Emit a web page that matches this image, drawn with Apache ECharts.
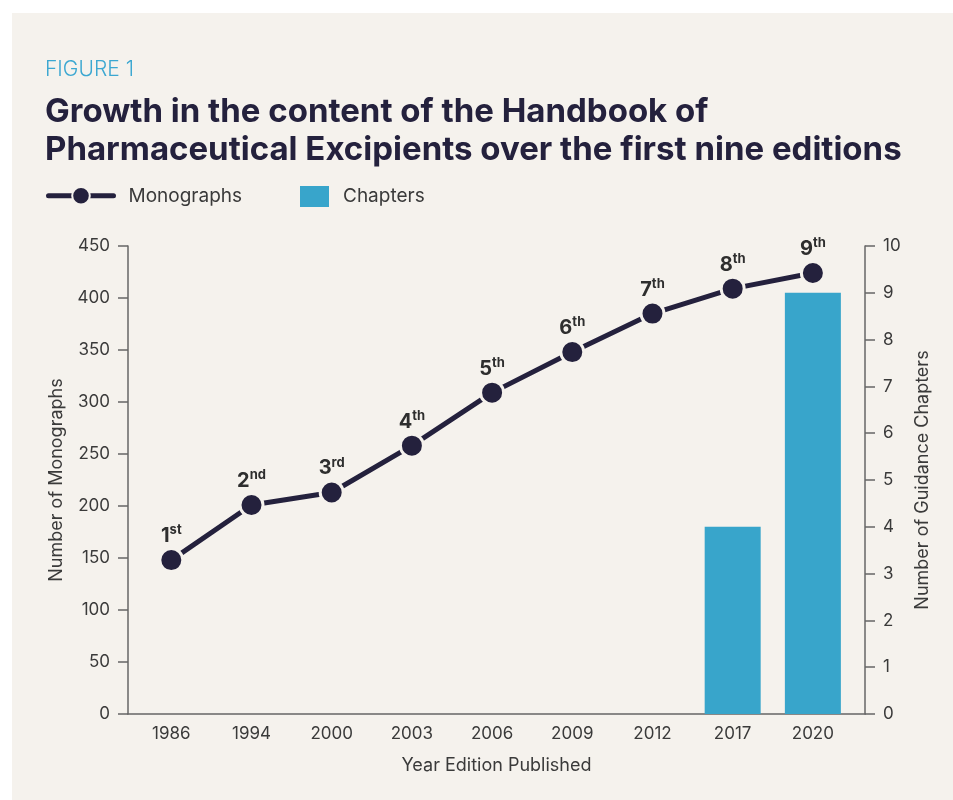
<!DOCTYPE html>
<html>
<head>
<meta charset="utf-8">
<script src="https://cdn.jsdelivr.net/npm/echarts@6/dist/echarts.min.js"></script>
<style>
  html, body { margin: 0; padding: 0; background: #ffffff; }
  #panel { position: absolute; left: 12px; top: 13px; width: 941px; height: 787px; background: #f5f2ed; }
  #chart { position: absolute; left: 0; top: 0; width: 953px; height: 800px; }
</style>
</head>
<body>
<div id="panel"></div>
<div id="chart"></div>
<script>
// data
const years = ['1986', '1994', '2000', '2003', '2006', '2009', '2012', '2017', '2020']
const editions = ['1st', '2nd', '3rd', '4th', '5th', '6th', '7th', '8th', '9th']
const monographs = [148, 201, 213, 258, 309, 348, 385, 409, 424]
const chapters = [0, 0, 0, 0, 0, 0, 0, 4, 9]

const navy = '#24213d'
const blue = '#38a5cb'
const textColor = '#3a3a3a'
const axisColor = '#666666'
const bg = '#f5f2ed'
const font = 'Inter, "Noto Sans", sans-serif'

const myChart = echarts.init(document.getElementById('chart'))

const axisCommon = {
  axisLine: { show: true, onZero: false, lineStyle: { color: axisColor, width: 1.5 } },
  axisTick: { show: true, length: 10, lineStyle: { color: axisColor, width: 1.5 } },
  splitLine: { show: false },
  axisLabel: { color: textColor, fontSize: 17, fontFamily: font, margin: 18 },
  nameLocation: 'middle',
  nameTextStyle: { color: textColor, fontSize: 18, fontFamily: font }
}

const option = {
  backgroundColor: 'transparent',
  textStyle: { fontFamily: font },
  title: [
    {
      text: 'FIGURE 1',
      left: 45,
      top: 58,
      padding: 0,
      textStyle: { color: '#3ba7d1', fontSize: 21, fontWeight: 300, fontFamily: font, lineHeight: 24 }
    },
    {
      text: 'Growth in the content of the Handbook of\nPharmaceutical Excipients over the first nine editions',
      left: 45,
      top: 93,
      padding: 0,
      textStyle: { color: navy, fontSize: 33, fontWeight: 'bold', fontFamily: font, lineHeight: 38 }
    }
  ],
  legend: [
    {
      data: ['Monographs'],
      left: 46,
      top: 186,
      padding: 0,
      itemWidth: 65,
      itemHeight: 22,
      lineStyle: { width: 5, cap: 'round' },
      textStyle: { color: textColor, fontSize: 19, fontFamily: font, padding: [0, 0, 0, 10] }
    },
    {
      data: ['Chapters'],
      left: 300,
      top: 186,
      padding: 0,
      itemWidth: 29,
      itemHeight: 21,
      icon: 'rect',
      textStyle: { color: textColor, fontSize: 19, fontFamily: font, padding: [0, 0, 0, 9] }
    }
  ],
  grid: { left: 128, right: 88, top: 246, bottom: 86, containLabel: false },
  xAxis: {
    type: 'value',
    min: -0.54,
    max: 8.65,
    name: 'Year Edition Published',
    nameLocation: 'middle',
    nameGap: 43,
    nameTextStyle: { color: textColor, fontSize: 18, fontFamily: font },
    axisLine: { show: true, onZero: false, lineStyle: { color: axisColor, width: 1.5 } },
    axisTick: { show: false },
    splitLine: { show: false },
    axisLabel: {
      color: textColor,
      fontSize: 17,
      fontFamily: font,
      margin: 11,
      customValues: years.map((y, i) => i),
      formatter: v => years[Math.round(v)]
    }
  },
  yAxis: [
    {
      ...axisCommon,
      type: 'value',
      position: 'left',
      min: 0,
      max: 450,
      interval: 50,
      name: 'Number of Monographs',
      nameGap: 62
    },
    {
      ...axisCommon,
      type: 'value',
      position: 'right',
      min: 0,
      max: 10,
      interval: 1,
      name: 'Number of Guidance Chapters',
      nameGap: 49
    }
  ],
  series: [
    {
      name: 'Chapters',
      type: 'bar',
      yAxisIndex: 1,
      barWidth: 56,
      itemStyle: { color: blue },
      data: chapters.map((c, i) => [i, c])
    },
    {
      name: 'Monographs',
      type: 'line',
      yAxisIndex: 0,
      symbol: 'circle',
      symbolSize: 23,
      lineStyle: { color: navy, width: 5 },
      itemStyle: { color: navy, borderColor: bg, borderWidth: 3 },
      z: 3,
      label: {
        show: true,
        position: 'top',
        distance: -1,
        formatter: p => {
          const e = editions[p.dataIndex]
          return '{n|' + e.slice(0, 1) + '}{s|' + e.slice(1) + '}'
        },
        rich: {
          n: { fontSize: 20, fontWeight: 'bold', color: '#2e2e2e', fontFamily: font, lineHeight: 24 },
          s: { fontSize: 13, fontWeight: 'bold', color: '#2e2e2e', fontFamily: font, lineHeight: 14, verticalAlign: 'top' }
        }
      },
      data: monographs.map((m, i) => [i, m])
    }
  ]
}

myChart.setOption(option)
</script>
</body>
</html>
